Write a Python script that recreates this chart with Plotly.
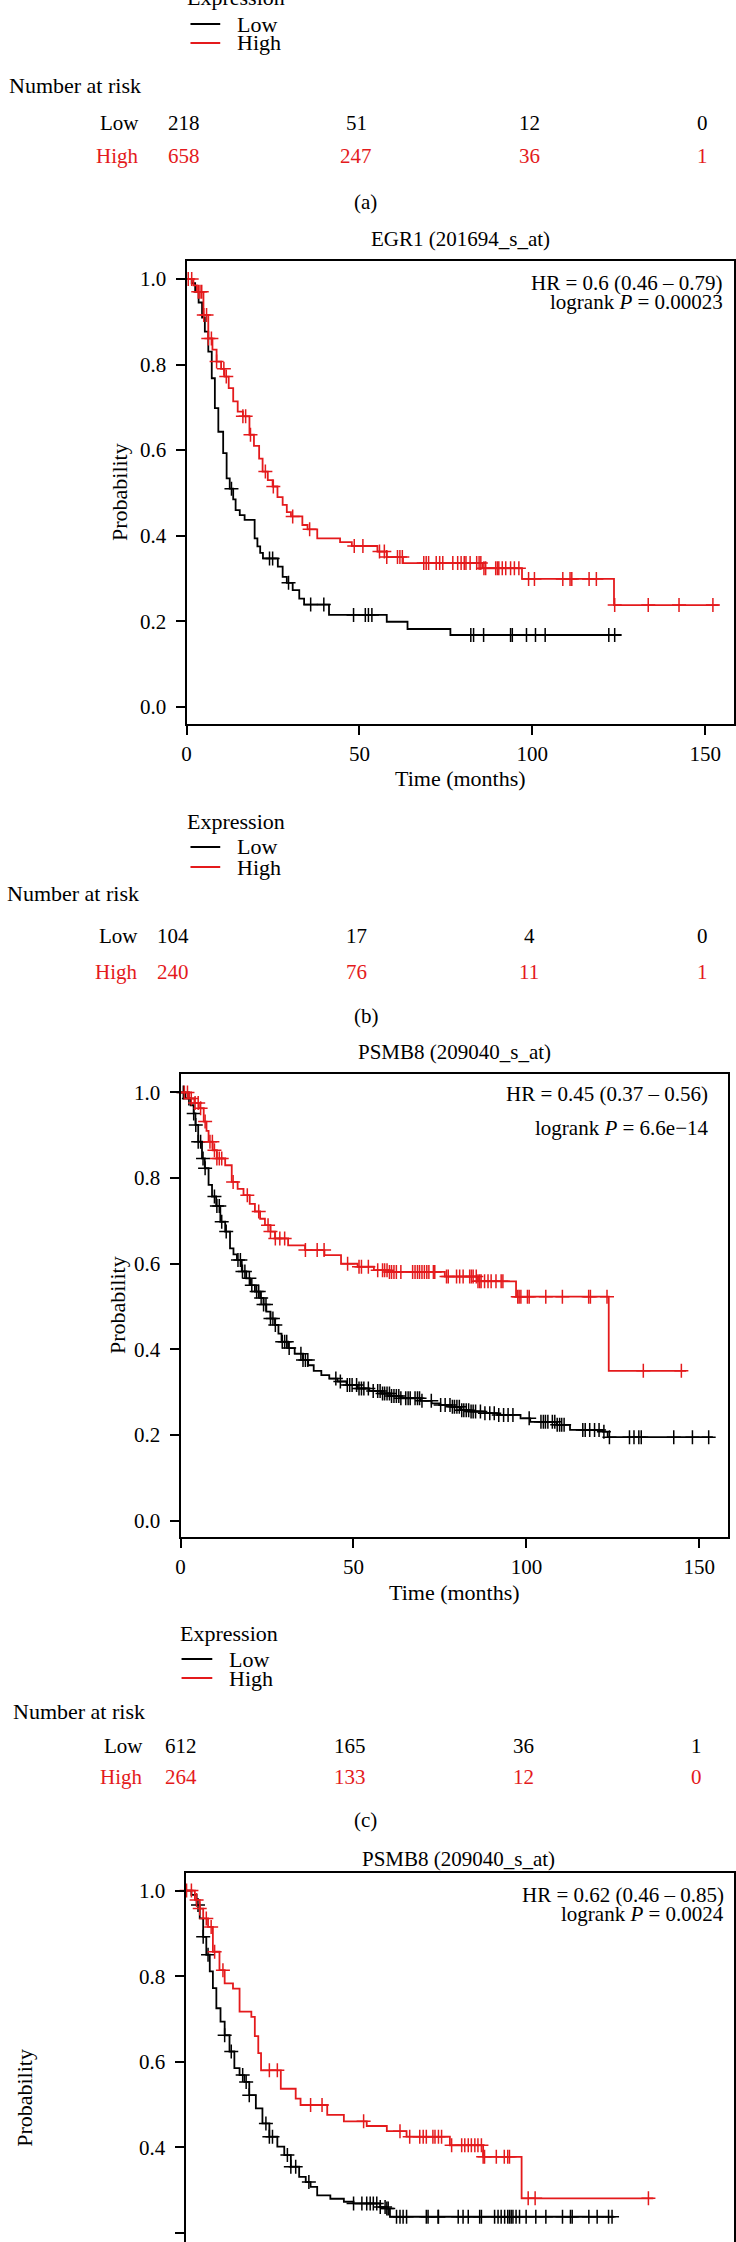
import numpy as np
import plotly.graph_objects as go

W, H = 736, 2242
FONT = "Liberation Serif"
BLACK = "#000000"
RED = "#e41a1c"

# ---------------- data ----------------
risk_times = [0, 50, 100, 150]
risk_a_low = [218, 51, 12, 0]
risk_a_high = [658, 247, 36, 1]
risk_b_low = [104, 17, 4, 0]
risk_b_high = [240, 76, 11, 1]
risk_c_low = [612, 165, 36, 1]
risk_c_high = [264, 133, 12, 0]

y_ticks = [0.0, 0.2, 0.4, 0.6, 0.8, 1.0]
x_ticks = [0, 50, 100, 150]

# Panel (b) EGR1
b_low_t = [0, 1.5, 2.5, 3.5, 4.5, 5.3, 6.3, 7.3, 8.2, 9.2, 10.6, 11.6, 12.5, 13.5, 14.2, 15.4, 16.8, 19.7,
           20.5, 21.3, 22.1, 26.4, 27.8, 29.0, 30.7, 32.6, 34.0, 41.2, 57.9, 63.9, 76.3]
b_low_s = [1.0, 0.99, 0.97, 0.945, 0.91, 0.877, 0.83, 0.768, 0.698, 0.643, 0.593, 0.534, 0.51, 0.485, 0.46,
           0.448, 0.437, 0.394, 0.375, 0.36, 0.347, 0.328, 0.304, 0.29, 0.273, 0.253, 0.239, 0.215, 0.199,
           0.182, 0.168]
b_low_end = 125.7
b_low_c = [13.0, 24.0, 24.9, 29.5, 35.9, 39.7, 48.3, 51.7, 52.6, 53.6, 82.2, 83.0, 85.9, 93.7, 94.2, 98.3,
           100.9, 103.7, 122.1, 123.8]

b_high_t = [0, 2, 3, 4.9, 6.3, 7.5, 8.7, 10, 11, 12.2, 13.5, 14.8, 16.3, 18.2, 19.5, 21, 22, 23.5, 24.9,
            26.3, 27.8, 29, 30.2, 33.5, 35, 37.8, 44.4, 47.8, 55.2, 57.9, 62.6, 85.6, 97, 123.6]
b_high_s = [1.0, 0.985, 0.97, 0.916, 0.861, 0.835, 0.807, 0.79, 0.772, 0.745, 0.714, 0.69, 0.679, 0.636,
            0.61, 0.58, 0.55, 0.53, 0.515, 0.49, 0.472, 0.455, 0.445, 0.425, 0.415, 0.394, 0.385, 0.376,
            0.363, 0.35, 0.336, 0.324, 0.299, 0.238]
b_high_end = 153.9
b_high_c = [0.5, 1.5, 3.4, 3.9, 4.4, 5.0, 5.8, 6.3, 7.2, 8.7, 10.8, 11.5, 16.3, 17.1, 18.5, 22.8, 25.1,
            30.7, 35.6, 48.5, 51.0, 55.8, 57.2, 57.9, 61.0, 61.7, 62.4, 68.6, 69.3, 70.0, 72.2, 73.2, 74.1,
            77.0, 78.4, 79.4, 80.3, 80.8, 82.0, 83.9, 84.6, 85.1, 86.0, 86.5, 89.4, 89.9, 90.3, 91.3, 92.3,
            93.7, 94.8, 96.1, 98.9, 100.6, 108.8, 110.9, 111.4, 116.4, 118.5, 123.8, 133.5, 142.4, 152.2]

# Panel (c) PSMB8
c_low_t = [0, 1.4, 2.9, 3.8, 4.3, 5.1, 6.2, 7.0, 8.1, 9.1, 10.3, 11.5, 12.9, 14.3, 15.3, 16.3, 17.7, 19,
           20.1, 21.5, 23, 24, 24.8, 26, 27.3, 28.3, 29.2, 31.1, 33, 35.4, 36.9, 38.5, 40.7, 43, 45.4, 48,
           51.2, 54.5, 57.9, 60.5, 63.6, 69.4, 72.6, 75.1, 78.3, 80.8, 84, 88, 91.6, 98.3, 101.1, 108.8,
           112.6, 122.1, 123.5]
c_low_s = [1.0, 0.986, 0.97, 0.951, 0.924, 0.885, 0.846, 0.823, 0.784, 0.757, 0.735, 0.698, 0.675, 0.636,
           0.622, 0.609, 0.582, 0.566, 0.55, 0.535, 0.52, 0.505, 0.488, 0.472, 0.457, 0.437, 0.418, 0.403,
           0.39, 0.375, 0.363, 0.35, 0.34, 0.332, 0.325, 0.317, 0.309, 0.303, 0.297, 0.291, 0.286, 0.28,
           0.274, 0.27, 0.266, 0.258, 0.255, 0.251, 0.247, 0.239, 0.231, 0.224, 0.212, 0.208, 0.195]
c_low_end = 153.9
c_low_c = [0.8, 2.4, 3.8, 4.4, 5.1, 5.8, 6.5, 7.1, 9.8, 10.5, 11.2, 11.9, 13.2, 16.6, 17.3, 17.9, 18.6,
           19.9, 20.6, 22.0, 22.6, 23.3, 24.0, 24.7, 26.0, 26.7, 27.4, 29.4, 30.1, 30.7, 31.4, 34.8, 35.4,
           36.1, 36.8, 44.9, 46.2, 48.2, 48.9, 49.6, 50.9, 51.6, 52.3, 53.0, 54.3, 55.7, 57.0, 57.7, 58.4,
           59.0, 59.7, 60.4, 61.0, 61.7, 62.4, 63.1, 63.7, 65.1, 65.8, 66.4, 67.8, 68.5, 69.1, 69.8, 72.5,
           75.2, 76.5, 77.9, 78.6, 79.2, 79.9, 80.6, 81.3, 81.9, 82.6, 83.3, 84.0, 84.6, 85.3, 86.7, 88.0,
           89.4, 90.7, 92.0, 93.4, 94.7, 96.1, 100.8, 104.2, 104.9, 105.5, 106.2, 107.5, 108.2, 108.9,
           109.6, 110.2, 110.9, 116.3, 117.0, 118.3, 119.7, 121.0, 122.4, 124.0, 129.8, 131.1, 132.5,
           133.2, 142.6, 148.0, 152.7]

c_high_t = [0, 2.4, 4, 5.3, 6.7, 7.5, 8.1, 9.3, 10.5, 12.9, 14.8, 16.5, 18.2, 20, 21.5, 23, 24.4, 26, 27.3,
            31.1, 36, 41.6, 46.4, 51.2, 55.9, 60, 76.4, 86, 97, 123.8]
c_high_s = [1.0, 0.986, 0.975, 0.963, 0.932, 0.91, 0.885, 0.865, 0.846, 0.83, 0.791, 0.775, 0.76, 0.74,
            0.722, 0.705, 0.69, 0.675, 0.659, 0.643, 0.632, 0.62, 0.6, 0.593, 0.585, 0.581, 0.57, 0.559,
            0.523, 0.35]
c_high_end = 146.2
c_high_c = [1.1, 2.0, 3.1, 4.2, 5.1, 5.8, 7.1, 8.5, 9.2, 9.8, 10.5, 11.2, 11.9, 15.2, 19.3, 22.6, 25.3,
            26.0, 27.4, 28.7, 30.1, 36.1, 39.5, 41.5, 48.3, 51.6, 52.3, 54.3, 57.0, 58.4, 59.0, 59.7, 60.4,
            61.0, 61.7, 62.4, 63.7, 67.1, 67.8, 68.5, 69.1, 69.8, 70.5, 71.2, 71.8, 73.1, 73.5, 76.9, 77.4,
            79.8, 80.7, 81.7, 83.6, 84.1, 84.6, 85.5, 86.0, 86.5, 86.9, 87.9, 88.9, 89.8, 91.2, 92.7, 93.2,
            97.5, 97.9, 98.4, 100.3, 100.8, 105.6, 110.4, 118.0, 118.5, 123.3, 133.8, 144.8]

# Panel (d) PSMB8
d_low_t = [0, 1.7, 3.2, 4.1, 5.1, 6.0, 7.0, 7.9, 8.9, 10.1, 11.3, 12.7, 14.1, 15.6, 17, 18.4, 20.3, 22.2,
           24.2, 26.5, 28.5, 30.4, 32.8, 34.7, 36.1, 38, 41.8, 45.7, 48.5, 56.2, 58.1, 59.0]
d_low_s = [1.0, 0.99, 0.966, 0.935, 0.892, 0.85, 0.811, 0.772, 0.725, 0.694, 0.662, 0.624, 0.585, 0.569,
           0.553, 0.522, 0.491, 0.456, 0.425, 0.402, 0.382, 0.355, 0.331, 0.319, 0.308, 0.288, 0.28, 0.273,
           0.269, 0.261, 0.257, 0.238]
d_low_end = 123.6
d_low_c = [3.6, 5.1, 6.5, 11.3, 13.2, 16.5, 17.5, 18.4, 23.2, 24.2, 25.1, 29.4, 30.4, 31.8, 35.6, 48.5,
           50.9, 52.3, 53.3, 54.2, 55.2, 56.2, 57.6, 58.1, 58.5, 60.9, 61.9, 62.8, 63.8, 69.5, 70.0, 72.9,
           73.0, 78.7, 80.1, 81.6, 84.9, 85.4, 89.2, 90.2, 91.1, 92.1, 93.0, 93.5, 94.0, 94.5, 95.4, 96.4,
           98.3, 101.1, 104.0, 108.8, 111.1, 111.6, 116.4, 118.8, 122.1, 123.1]

d_high_t = [0, 2.7, 4.1, 5.1, 6.5, 7.9, 9.8, 11.3, 13.7, 15.6, 19, 20.0, 21.0, 21.8, 27.5, 31.8, 33.2, 40.9,
            45.7, 52.3, 58.1, 63.8, 76.3, 85.9, 97]
d_high_s = [1.0, 0.978, 0.958, 0.935, 0.915, 0.857, 0.814, 0.783, 0.771, 0.717, 0.705, 0.66, 0.62, 0.58,
            0.537, 0.514, 0.499, 0.476, 0.461, 0.45, 0.438, 0.425, 0.405, 0.378, 0.281]
d_high_end = 135.0
d_high_c = [0.3, 1.7, 3.2, 4.1, 6.0, 7.4, 8.4, 10.8, 24.2, 26.5, 36.1, 39.4, 51.4, 61.9, 64.7, 67.6, 68.6,
            69.5, 71.4, 72.0, 73.0, 73.9, 76.8, 79.7, 80.6, 81.6, 82.5, 83.5, 84.4, 85.4, 85.9, 86.3, 89.7,
            92.0, 93.0, 93.5, 98.9, 100.9, 133.6]

# ---------------- helpers ----------------
def px(x):
    return x / W


def py(y):
    return 1 - y / H


def km_traces(t, s, end, cens, color, xa, ya):
    xs = list(t) + [end]
    ys = list(s) + [s[-1]]
    tt = np.array(t)
    ss = np.array(s)
    cc = np.array(cens)
    idx = np.searchsorted(tt, cc, side="right") - 1
    cy = ss[idx]
    line = go.Scatter(x=xs, y=ys, mode="lines", line=dict(color=color, width=1.8, shape="hv"),
                      xaxis=xa, yaxis=ya, showlegend=False, hoverinfo="skip")
    marks = go.Scatter(x=cc, y=cy, mode="markers",
                       marker=dict(symbol="cross-thin", size=10, color=color,
                                   line=dict(color=color, width=1.5)),
                       xaxis=xa, yaxis=ya, showlegend=False, cliponaxis=False, hoverinfo="skip")
    return [line, marks]


def A(text, x, y, xa="center", size=21, color=BLACK, angle=0, ya="middle"):
    return dict(text=text, x=px(x), y=py(y), xref="paper", yref="paper", xanchor=xa, yanchor=ya,
                showarrow=False, font=dict(family=FONT, size=size, color=color), textangle=angle)


fig = go.Figure()
for tr in (km_traces(b_low_t, b_low_s, b_low_end, b_low_c, BLACK, "x", "y")
           + km_traces(b_high_t, b_high_s, b_high_end, b_high_c, RED, "x", "y")
           + km_traces(c_low_t, c_low_s, c_low_end, c_low_c, BLACK, "x2", "y2")
           + km_traces(c_high_t, c_high_s, c_high_end, c_high_c, RED, "x2", "y2")
           + km_traces(d_low_t, d_low_s, d_low_end, d_low_c, BLACK, "x3", "y3")
           + km_traces(d_high_t, d_high_s, d_high_end, d_high_c, RED, "x3", "y3")):
    fig.add_trace(tr)

tickfont = dict(family=FONT, size=21, color=BLACK)
ytext = ["%.1f" % v for v in y_ticks]


def xcfg(domain, anchor, **kw):
    d = dict(domain=domain, anchor=anchor, range=[0, 158.3], tickvals=x_ticks, ticks="outside",
             ticklen=9, tickwidth=1.5, tickcolor=BLACK, showline=True, linewidth=2, linecolor=BLACK,
             mirror=True, showgrid=False, zeroline=False, tickfont=tickfont, ticklabelstandoff=1)
    d.update(kw)
    return d


def ycfg(domain, anchor, rng):
    return dict(domain=domain, anchor=anchor, range=rng, tickvals=y_ticks, ticktext=ytext,
                ticks="outside", ticklen=9, tickwidth=1.5, tickcolor=BLACK, showline=True, linewidth=2,
                linecolor=BLACK, mirror=True, showgrid=False, zeroline=False, tickfont=tickfont,
                ticklabelstandoff=5)


layout = dict(
    width=W, height=H, margin=dict(l=0, r=0, t=0, b=0), paper_bgcolor="white", plot_bgcolor="white",
    showlegend=False,
    xaxis=xcfg([px(183), px(735)], "y"),
    yaxis=ycfg([py(724), py(261)], "x", [-0.04, 1.042]),
    xaxis2=xcfg([px(177), px(729)], "y2"),
    yaxis2=ycfg([py(1537), py(1074)], "x2", [-0.038, 1.043]),
    xaxis3=xcfg([px(182), px(735)], "y3", side="top", mirror=False, showticklabels=False, ticks=""),
    yaxis3=ycfg([0, py(1873)], "x3", [0.179, 1.041]),
)
fig.update_layout(**layout)

ann = []
shapes = []


def legend_block(x_text_left, y_title, y_low, y_high, line_x0, line_x1, text_x):
    ann.append(A("Expression", x_text_left, y_title, xa="left", size=22))
    ann.append(A("Low", text_x, y_low, xa="left", size=22))
    ann.append(A("High", text_x, y_high, xa="left", size=22))
    for yy, col in ((y_low, BLACK), (y_high, RED)):
        shapes.append(dict(type="line", xref="paper", yref="paper", x0=px(line_x0), x1=px(line_x1),
                           y0=py(yy), y1=py(yy), line=dict(color=col, width=2)))


def risk_block(xref, y_title, y_low, y_high, label_right, title_left, lows, highs, first_shift):
    ann.append(A("Number at risk", title_left, y_title, xa="left", size=22))
    ann.append(A("Low", label_right, y_low, xa="right"))
    ann.append(A("High", label_right, y_high, xa="right", color=RED))
    for i, tm in enumerate(risk_times):
        sh = first_shift if i == 0 else -3
        for val, yy, col in ((lows[i], y_low, BLACK), (highs[i], y_high, RED)):
            ann.append(dict(text=str(val), x=tm, xref=xref, y=py(yy), yref="paper", xanchor="center",
                            yanchor="middle", xshift=sh, showarrow=False,
                            font=dict(family=FONT, size=21, color=col)))


# Panel (a) remnant
legend_block(181, -3, 24, 43, 187, 217, 232)
risk_block("x", 86, 123, 156, 137, 2, risk_a_low, risk_a_high, -3)
ann.append(A("(a)", 363, 202))

# Panel (b)
ann.append(A("EGR1 (201694_s_at)", 459, 239))
ann.append(A("HR = 0.6 (0.46 – 0.79)", 726, 283, xa="right"))
ann.append(A("logrank <i>P</i> = 0.00023", 726, 302, xa="right"))
ann.append(A("Probability", 115, 492, angle=-90, size=22))
ann.append(A("Time (months)", 459, 778, size=22))
legend_block(181, 822, 847, 867, 187, 217, 232)
risk_block("x", 893, 936, 972, 136, 0, risk_b_low, risk_b_high, -14)
ann.append(A("(b)", 364, 1016))

# Panel (c)
ann.append(A("PSMB8 (209040_s_at)", 453, 1052))
ann.append(A("HR = 0.45 (0.37 – 0.56)", 711, 1094, xa="right"))
ann.append(A("logrank <i>P</i> = 6.6e−14", 711, 1128, xa="right"))
ann.append(A("Probability", 113, 1305, angle=-90, size=22))
ann.append(A("Time (months)", 453, 1592, size=22))
legend_block(174, 1633, 1659, 1678, 178, 209, 224)
risk_block("x2", 1711, 1746, 1777, 141, 6, risk_c_low, risk_c_high, 0)
ann.append(A("(c)", 363, 1820))

# Panel (d)
ann.append(A("PSMB8 (209040_s_at)", 457, 1859))
ann.append(A("HR = 0.62 (0.46 – 0.85)", 727, 1895, xa="right"))
ann.append(A("logrank <i>P</i> = 0.0024", 727, 1914, xa="right"))
ann.append(A("Probability", 19, 2098, angle=-90, size=22))

fig.update_layout(annotations=ann, shapes=shapes)
fig.write_html("out.html", config={"displayModeBar": False},
               post_script="document.body.style.margin='0';document.body.style.padding='0';"
                           "document.body.style.overflow='hidden';"
                           "document.documentElement.style.overflow='hidden';")
